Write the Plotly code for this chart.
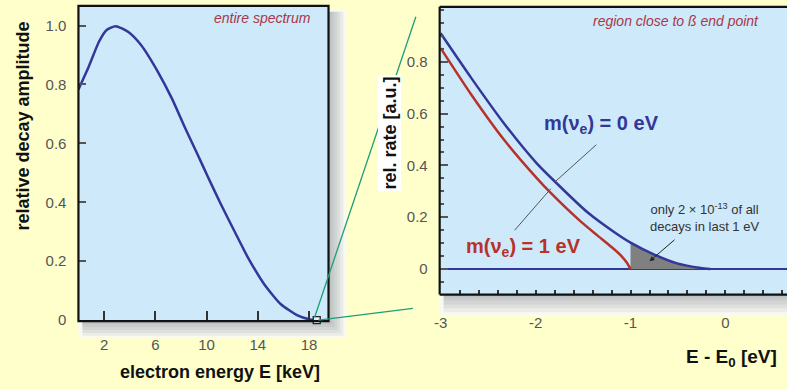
import plotly.graph_objects as go

# ---------------- data ----------------
# entire tritium beta spectrum (left panel)
energy_kev = [0.0, 0.8, 1.6, 2.2, 2.9, 3.9, 4.9, 6.2, 7.3, 8.3, 9.3, 10.1, 11.1,
              12.2, 13.2, 14.5, 15.8, 17.1, 18.0, 18.6]
amplitude = [0.783, 0.860, 0.945, 0.985, 0.998, 0.978, 0.933, 0.843, 0.752, 0.655,
             0.562, 0.487, 0.395, 0.300, 0.215, 0.122, 0.054, 0.016, 0.003, 0.0]
endpoint_kev = [18.6]
endpoint_amp = [0.0]

# region close to end point (right panel)
e_m0 = [-3.0, -2.68, -2.33, -1.99, -1.80, -1.45, -1.17, -1.0, -0.75, -0.51, -0.26, -0.16]
rate_m0 = [0.910, 0.739, 0.561, 0.409, 0.339, 0.218, 0.142, 0.102, 0.056, 0.022, 0.004, 0.0]
e_m1 = [-3.0, -2.68, -2.33, -1.99, -1.83, -1.52, -1.35, -1.20, -1.10, -1.04, -1.0]
rate_m1 = [0.853, 0.675, 0.498, 0.352, 0.290, 0.182, 0.130, 0.085, 0.052, 0.025, 0.0]

left_xticks = [2, 6, 10, 14, 18]
left_yticks = [0, 0.2, 0.4, 0.6, 0.8, 1.0]
left_yticktext = ["0", "0.2", "0.4", "0.6", "0.8", "1.0"]
right_xticks = [-3, -2, -1, 0]
right_xticktext = ["-3", "-2", "-1", "0"]
right_yticks = [0, 0.2, 0.4, 0.6, 0.8]
right_yticktext = ["0", "0.2", "0.4", "0.6", "0.8"]

# ---------------- styling ----------------
W, H = 787, 389
FONT = "Liberation Sans, Arial, sans-serif"
BLUE = "#33379A"
RED = "#B8322A"
PAPER = "#FFFFCC"
PLOTBG = "#CDE9FA"
GREEN = "#1E9E78"
TITLE_RED = "#A8374A"


def px(x):
    return x / W


def py(y):
    return 1 - y / H


fig = go.Figure()

# left spectrum
fig.add_trace(go.Scatter(x=energy_kev, y=amplitude, mode="lines",
                         line=dict(color=BLUE, width=2.5, shape="spline", smoothing=0.6),
                         xaxis="x", yaxis="y", showlegend=False, hoverinfo="skip"))
fig.add_trace(go.Scatter(x=endpoint_kev, y=endpoint_amp, mode="markers",
                         marker=dict(symbol="square", size=7, color="#E8F2FA",
                                     line=dict(color="#222", width=1.3)),
                         xaxis="x", yaxis="y", showlegend=False, cliponaxis=False,
                         hoverinfo="skip"))

# gray fill: last 1 eV under m=0 curve
fill_x = [e for e in e_m0 if e >= -1.0]
fill_y = [r for e, r in zip(e_m0, rate_m0) if e >= -1.0]
fig.add_trace(go.Scatter(x=fill_x, y=fill_y, mode="lines", fill="tozeroy",
                         fillcolor="#808080", line=dict(width=0, shape="spline", smoothing=0.6),
                         xaxis="x2", yaxis="y2", showlegend=False, hoverinfo="skip"))
fig.add_trace(go.Scatter(x=e_m1, y=rate_m1, mode="lines",
                         line=dict(color=RED, width=2.5, shape="spline", smoothing=0.5),
                         xaxis="x2", yaxis="y2", showlegend=False, hoverinfo="skip"))
fig.add_trace(go.Scatter(x=e_m0, y=rate_m0, mode="lines",
                         line=dict(color=BLUE, width=2.5, shape="spline", smoothing=0.6),
                         xaxis="x2", yaxis="y2", showlegend=False, hoverinfo="skip"))

tickfont = dict(family=FONT, size=15, color="#555")

shapes = []
# left whitish box + shadow (L-shaped bands outside the frame)
shapes.append(dict(type="rect", xref="paper", yref="paper", x0=px(73), x1=px(343),
                   y0=py(344), y1=py(10), fillcolor="#F9F9F4", line=dict(width=0), layer="below"))
for d in [15, 12, 9, 6, 3]:
    shapes.append(dict(type="rect", xref="paper", yref="paper", x0=px(325), x1=px(325 + d),
                       y0=py(327 + d), y1=py(12), fillcolor="rgba(60,70,90,0.07)",
                       line=dict(width=0), layer="below"))
    shapes.append(dict(type="rect", xref="paper", yref="paper", x0=px(77), x1=px(325),
                       y0=py(327 + d), y1=py(327), fillcolor="rgba(60,70,90,0.07)",
                       line=dict(width=0), layer="below"))
# right whitish box + shadow (band below the frame only)
shapes.append(dict(type="rect", xref="paper", yref="paper", x0=px(437), x1=1.0,
                   y0=py(321), y1=py(300), fillcolor="#F9F9F4", line=dict(width=0), layer="below"))
for d in [18, 14, 10, 6, 3]:
    shapes.append(dict(type="rect", xref="paper", yref="paper", x0=px(441), x1=1.0,
                       y0=py(300 + d), y1=py(300), fillcolor="rgba(60,70,90,0.07)",
                       line=dict(width=0), layer="below"))
# plot backgrounds
shapes.append(dict(type="rect", xref="x domain", yref="y domain", x0=0, x1=1, y0=0, y1=1,
                   fillcolor=PLOTBG, line=dict(width=0), layer="below"))
shapes.append(dict(type="rect", xref="paper", yref="y2 domain", x0=px(437), x1=1.0, y0=0, y1=1,
                   fillcolor=PLOTBG, line=dict(width=0), layer="below"))
# frames
shapes.append(dict(type="rect", xref="x domain", yref="y domain", x0=0, x1=1, y0=0, y1=1,
                   line=dict(color="#111", width=2.2), layer="above"))
for (x0, y0, x1, y1) in [(0, 0, 0, 1), (0, 1, 1, 1), (0, 0, 1, 0)]:
    shapes.append(dict(type="line", xref="x2 domain", yref="y2 domain", x0=x0, y0=y0,
                       x1=x1, y1=y1, line=dict(color="#111", width=2.2), layer="above"))
# green zoom lines
shapes.append(dict(type="line", xref="paper", yref="paper", x0=px(311), y0=py(323),
                   x1=px(413), y1=py(17), line=dict(color=GREEN, width=1.3), layer="above"))
shapes.append(dict(type="line", xref="paper", yref="paper", x0=px(315), y0=py(326),
                   x1=px(410), y1=py(314), line=dict(color=GREEN, width=1.3), layer="above"))
# label pointer lines
shapes.append(dict(type="line", xref="x2", yref="y2", x0=-1.36, y0=0.48, x1=-1.80, y1=0.335,
                   line=dict(color="#555", width=1)))
shapes.append(dict(type="line", xref="x2", yref="y2", x0=-2.22, y0=0.15, x1=-1.84, y1=0.31,
                   line=dict(color="#555", width=1)))


def ann(text, x, y, size, color, **kw):
    d = dict(text=text, xref="paper", yref="paper", x=px(x), y=py(y), showarrow=False,
             xanchor="center", yanchor="middle", font=dict(family=FONT, size=size, color=color))
    d.update(kw)
    return d


annotations = [
    ann("<i>entire spectrum</i>", 258, 18, 14, TITLE_RED),
    ann("<i>region close to ß end point</i>", 675, 21, 14, TITLE_RED),
    ann("<b>relative decay amplitude</b>", 17, 128, 18, "#111", textangle=-90),
    ann("<b>electron energy E [keV]</b>", 216, 379, 18, "#111"),
    ann("<b>rel. rate [a.u.]</b>", 386, 136, 18, "#111", textangle=-90,
        bgcolor="white", borderpad=1),
    ann("<b>E - E<sub>0</sub> [eV]</b>", 731, 365, 19, "#111"),
    dict(text="<b>m(ν<sub>e</sub>) = 0 eV</b>", xref="x2", yref="y2", x=-1.307, y=0.557,
         xanchor="center", yanchor="middle",
         showarrow=False, font=dict(family=FONT, size=20, color=BLUE)),
    dict(text="<b>m(ν<sub>e</sub>) = 1 eV</b>", xref="x2", yref="y2", x=-2.132, y=0.083,
         xanchor="center", yanchor="middle",
         showarrow=False, font=dict(family=FONT, size=20, color=RED)),
    ann("only 2 × 10<sup>-13</sup> of all<br>decays in last 1 eV", 704, 221, 13, "#333",
        align="center"),
    dict(text="", xref="x2", yref="y2", x=-0.80, y=0.03, axref="x2", ayref="y2",
         ax=-0.52, ay=0.118, showarrow=True, arrowhead=2, arrowsize=1, arrowwidth=1,
         arrowcolor="#222"),
]

fig.update_layout(
    width=W, height=H, margin=dict(l=0, r=0, t=0, b=0),
    paper_bgcolor=PAPER, plot_bgcolor="rgba(0,0,0,0)",
    font=dict(family=FONT),
    shapes=shapes, annotations=annotations, showlegend=False,
    xaxis=dict(domain=[px(73), px(325)], range=[0, 19.52], anchor="y",
               tickmode="array", tickvals=left_xticks, ticks="inside", ticklen=10,
               tickwidth=1.5, tickcolor="#333", showgrid=False, zeroline=False,
               showline=False, tickfont=tickfont, ticklabelstandoff=13, fixedrange=True),
    yaxis=dict(domain=[py(327), py(6)], range=[-0.0033, 1.0667], anchor="x",
               tickmode="array", tickvals=left_yticks, ticktext=left_yticktext,
               ticks="inside", ticklen=8, tickwidth=1.5, tickcolor="#555",
               showgrid=False, zeroline=False, showline=False, tickfont=tickfont,
               ticklabelstandoff=11, fixedrange=True),
    xaxis2=dict(domain=[px(437), 1.0], range=[-3.01, 0.648], anchor="y2",
                tickmode="array", tickvals=right_xticks, ticktext=right_xticktext,
                ticks="inside", ticklen=5, tickwidth=1.5, tickcolor="#333",
                minor=dict(tickmode="linear", tick0=-3, dtick=0.2, ticks="inside",
                           ticklen=5, tickwidth=1.5, tickcolor="#333"),
                showgrid=False, zeroline=False, showline=False, tickfont=tickfont,
                ticklabelstandoff=17, fixedrange=True),
    yaxis2=dict(domain=[py(300), py(7)], range=[-0.0986, 1.012], anchor="x2",
                tickmode="array", tickvals=right_yticks, ticktext=right_yticktext,
                ticks="inside", ticklen=8, tickwidth=1.5, tickcolor="#555",
                minor=dict(tickmode="linear", tick0=0, dtick=0.05, ticks="inside",
                           ticklen=4, tickwidth=1.5, tickcolor="#555"),
                showgrid=False, zeroline=True, zerolinecolor=BLUE, zerolinewidth=2,
                showline=False, tickfont=tickfont, ticklabelstandoff=11, fixedrange=True),
)

fig.write_html(
    "out.html", config={"displayModeBar": False},
    post_script=("document.body.style.margin='0px';"
                 "document.body.style.overflow='hidden';"
                 "document.documentElement.style.overflow='hidden';"))
